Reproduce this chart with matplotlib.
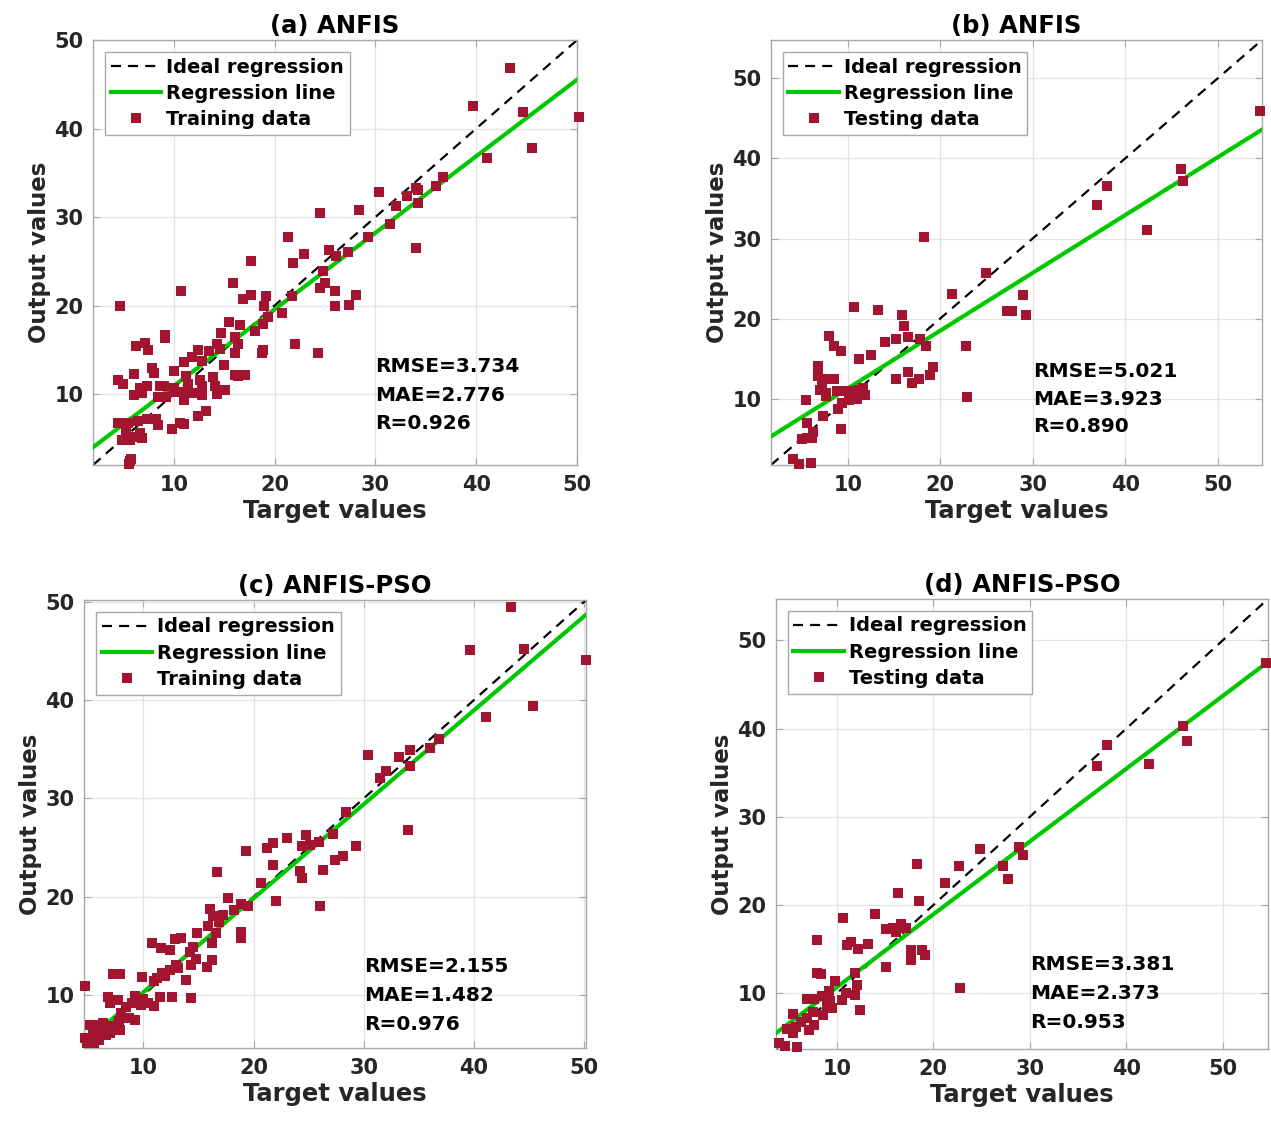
import matplotlib.pyplot as plt
from matplotlib.lines import Line2D

plt.rcParams['font.family'] = ['DejaVu Sans']
plt.rcParams['font.weight'] = 'bold'
plt.rcParams['axes.labelweight'] = 'bold'
plt.rcParams['axes.titleweight'] = 'bold'

# (a) ANFIS, training
a_target = [43.4, 39.7, 44.6, 50.2, 45.5, 41.1, 36.7, 36.0, 34.0, 34.2,
            33.1, 34.2, 32.0, 30.4, 28.4, 31.5, 29.3, 34.0, 24.5, 21.3,
            22.9, 21.8, 25.4, 26.1, 27.3, 24.8, 25.0, 24.5, 26.0, 28.1,
            26.0, 27.4, 21.7, 20.7, 22.0, 24.3, 17.7, 15.9, 17.7, 16.9,
            19.2, 19.0, 19.4, 18.9, 18.1, 16.6, 15.5, 10.7, 4.7, 14.7,
            16.1, 16.4, 14.3, 14.6, 16.1, 18.9, 18.8, 15.0, 12.4, 13.5,
            11.8, 11.0, 12.8, 16.1, 17.1, 16.4, 9.1, 9.1, 7.2, 6.3,
            7.5, 13.9, 11.2, 10.0, 7.8, 6.1, 4.5, 5.0, 8.0, 12.8,
            14.1, 12.6, 11.4, 11.0, 10.0, 9.0, 8.6, 7.4, 6.7, 6.1,
            6.9, 8.4, 9.2, 10.2, 11.8, 11.0, 14.3, 15.1, 12.8, 13.2,
            12.4, 9.8, 10.6, 11.0, 8.4, 8.2, 7.4, 4.5, 5.5, 6.5,
            4.9, 5.7, 6.7, 6.9, 6.1, 5.3, 5.7, 5.6, 5.8]
a_output = [46.8, 42.5, 41.9, 41.3, 37.8, 36.7, 34.5, 33.5, 33.3, 33.1,
            32.4, 31.6, 31.2, 32.8, 30.8, 29.2, 27.8, 26.5, 30.5, 27.8,
            25.8, 24.8, 26.3, 25.6, 26.1, 23.9, 22.6, 22.0, 21.7, 21.2,
            20.0, 20.1, 21.1, 19.2, 15.7, 14.7, 25.0, 22.5, 21.2, 20.8,
            21.1, 20.0, 18.7, 17.9, 17.1, 17.8, 18.2, 21.6, 20.0, 16.9,
            16.5, 15.7, 15.7, 15.1, 14.6, 15.0, 14.7, 13.3, 15.0, 14.9,
            14.2, 13.6, 13.7, 12.2, 12.2, 12.1, 16.4, 16.7, 15.8, 15.4,
            15.0, 11.9, 12.1, 12.6, 12.9, 12.3, 11.6, 11.1, 12.4, 10.9,
            10.9, 11.6, 11.1, 10.3, 10.7, 10.9, 10.9, 10.9, 10.7, 9.9,
            10.1, 9.7, 9.7, 10.3, 10.1, 9.3, 10.0, 10.5, 9.9, 8.1,
            7.5, 6.1, 6.8, 6.6, 6.5, 7.2, 7.2, 6.8, 6.8, 7.0,
            4.8, 4.8, 5.6, 5.0, 5.2, 5.6, 2.5, 2.1, 2.7]

# (b) ANFIS, testing
b_target = [54.6, 46.0, 46.3, 38.0, 37.0, 42.4, 18.3, 25.0, 21.3, 29.0,
            27.2, 27.8, 29.3, 10.7, 13.3, 15.9, 16.1, 8.0, 8.5, 9.3,
            14.0, 15.2, 16.5, 17.8, 18.5, 22.8, 12.5, 11.2, 19.2, 16.5,
            18.9, 17.7, 16.9, 15.2, 22.9, 6.8, 6.8, 7.9, 8.5, 7.2,
            7.0, 7.7, 7.7, 8.8, 9.3, 10.3, 11.2, 11.6, 11.9, 11.0,
            10.1, 9.4, 9.0, 5.5, 7.3, 5.6, 9.3, 6.2, 6.1, 5.0,
            5.6, 4.1, 4.7, 6.0]
b_output = [45.9, 38.7, 37.2, 36.5, 34.2, 31.1, 30.2, 25.7, 23.1, 22.9,
            21.0, 21.0, 20.4, 21.4, 21.1, 20.5, 19.1, 17.8, 16.6, 16.0,
            17.1, 17.4, 17.7, 17.4, 16.6, 16.6, 15.5, 14.9, 14.0, 13.3,
            12.9, 12.4, 12.0, 12.4, 10.2, 14.1, 12.8, 12.5, 12.5, 12.0,
            11.1, 10.7, 10.3, 10.9, 10.9, 10.9, 11.1, 11.3, 10.4, 9.9,
            9.8, 9.5, 8.7, 9.8, 7.8, 7.0, 6.2, 5.8, 5.1, 5.0,
            5.1, 2.5, 1.8, 2.0]

# (c) ANFIS-PSO, training
c_target = [43.4, 39.7, 44.6, 50.2, 45.4, 41.1, 36.8, 36.0, 34.2, 33.2,
            34.2, 30.4, 32.0, 31.5, 34.0, 28.4, 27.2, 29.3, 28.1, 27.4,
            26.3, 26.0, 24.8, 24.4, 25.1, 25.9, 23.0, 21.8, 21.2, 19.3,
            21.8, 24.2, 24.4, 20.7, 22.0, 16.7, 17.7, 18.9, 19.5, 18.2,
            17.2, 16.0, 16.3, 16.9, 15.9, 14.9, 16.6, 18.9, 18.9, 16.2,
            14.5, 14.2, 14.8, 14.3, 16.2, 15.8, 13.4, 12.9, 10.8, 11.6,
            12.4, 13.1, 12.4, 11.7, 11.2, 11.0, 13.9, 9.9, 7.2, 7.9,
            4.7, 14.3, 12.6, 11.5, 11.0, 10.4, 9.8, 9.2, 9.0, 8.4,
            7.7, 6.8, 7.0, 9.2, 8.7, 7.8, 7.9, 7.0, 6.3, 5.7,
            5.4, 6.0, 6.6, 7.0, 5.1, 4.7, 5.5, 4.9, 6.0, 5.1,
            8.0, 6.5, 5.8, 10.0, 12.0, 13.0]
c_output = [49.5, 45.1, 45.2, 44.1, 39.4, 38.3, 36.1, 35.1, 34.9, 34.2,
            33.3, 34.4, 32.8, 32.1, 26.8, 28.6, 26.4, 25.2, 24.1, 23.7,
            22.7, 19.1, 26.3, 25.2, 25.3, 25.6, 26.0, 25.5, 25.0, 24.7,
            23.2, 22.6, 21.9, 21.4, 19.6, 22.5, 19.9, 19.3, 19.1, 18.6,
            18.1, 18.7, 18.0, 17.4, 17.0, 16.3, 16.3, 16.4, 15.8, 15.3,
            14.9, 14.4, 13.7, 13.1, 13.6, 12.8, 15.8, 15.7, 15.3, 14.8,
            14.6, 12.7, 12.5, 12.2, 11.7, 11.4, 11.5, 11.8, 12.1, 12.1,
            10.9, 9.7, 9.8, 9.8, 8.9, 9.2, 9.0, 9.9, 9.2, 8.8,
            9.5, 9.8, 9.2, 7.5, 7.7, 7.3, 6.4, 6.8, 7.1, 6.9,
            6.4, 6.1, 5.9, 6.1, 5.6, 5.6, 5.1, 5.1, 5.4, 6.9,
            8.2, 6.6, 5.8, 9.6, 11.9, 13.0]

# (d) ANFIS-PSO, testing
d_target = [54.5, 45.9, 46.3, 38.0, 37.0, 42.4, 28.9, 29.3, 24.8, 22.7,
            27.2, 27.8, 21.2, 18.3, 18.5, 16.4, 14.0, 10.7, 15.1, 15.8,
            16.7, 17.2, 16.1, 17.7, 17.7, 18.8, 19.2, 15.1, 22.8, 8.0,
            11.1, 11.5, 12.2, 13.2, 8.0, 8.4, 9.8, 11.9, 12.1, 9.2,
            8.5, 11.0, 11.9, 10.5, 9.3, 9.0, 9.5, 6.9, 7.6, 12.4,
            8.6, 5.5, 7.5, 6.9, 6.3, 7.6, 7.1, 5.8, 5.1, 5.5,
            4.8, 4.0, 4.6, 5.9]
d_output = [47.5, 40.3, 38.6, 38.1, 35.8, 36.0, 26.6, 25.7, 26.4, 24.4,
            24.4, 23.0, 22.5, 24.7, 20.5, 21.4, 19.0, 18.5, 17.3, 17.4,
            17.9, 17.4, 17.0, 14.9, 13.8, 14.9, 14.4, 13.0, 10.6, 16.0,
            15.5, 15.8, 15.0, 15.6, 12.3, 12.2, 11.4, 12.3, 10.9, 10.3,
            9.7, 10.0, 9.8, 9.2, 9.1, 8.7, 8.4, 9.4, 9.4, 8.1,
            7.6, 7.7, 7.9, 7.2, 6.8, 6.4, 5.9, 6.2, 6.0, 5.5,
            6.0, 4.4, 4.0, 3.9]

titles = ['(a) ANFIS', '(b) ANFIS', '(c) ANFIS-PSO', '(d) ANFIS-PSO']
data_labels = ['Training data', 'Testing data', 'Training data', 'Testing data']
limits = [(2.0, 50.0), (1.7, 54.8), (4.6, 50.2), (3.7, 54.7)]
# regression line: (slope, intercept)
fits = [(0.865, 2.27), (0.722, 4.04), (0.956, 0.72), (0.825, 2.45)]
metrics = [('3.734', '2.776', '0.926'), ('5.021', '3.923', '0.890'),
           ('2.155', '1.482', '0.976'), ('3.381', '2.373', '0.953')]
metric_y = [(13.1, 9.9, 6.7), (13.4, 9.9, 6.5), (12.9, 9.9, 7.0), (13.3, 10.0, 6.7)]
targets = [a_target, b_target, c_target, d_target]
outputs = [a_output, b_output, c_output, d_output]

# axes rectangles in figure fractions
rects = [[0.0732, 0.5863, 0.3808, 0.3781],
         [0.6066, 0.5863, 0.3863, 0.3781],
         [0.0661, 0.0676, 0.3950, 0.3986],
         [0.6105, 0.0667, 0.3871, 0.4004]]

red = '#A2142F'
green = '#00C800'

fig = plt.figure(figsize=(12.71, 11.24), dpi=100)

for i in range(4):
    ax = fig.add_axes(rects[i])
    lo, hi = limits[i]
    slope, icpt = fits[i]

    ax.plot([lo, hi], [lo, hi], color='black', lw=1.6, ls=(0, (4.5, 3.2)), zorder=2)
    ax.plot([lo, hi], [slope * lo + icpt, slope * hi + icpt], color=green, lw=3, zorder=3)
    ax.scatter(targets[i], outputs[i], marker='s', s=55, color=red, lw=0,
               zorder=4, clip_on=False)

    ax.set_xlim(lo, hi)
    ax.set_ylim(lo, hi)
    ax.set_xticks([10, 20, 30, 40, 50])
    ax.set_yticks([10, 20, 30, 40, 50])
    ax.grid(True, color='#e3e3e3', lw=0.9)
    ax.set_axisbelow(True)
    for sp in ax.spines.values():
        sp.set_color('#a8a8a8')
        sp.set_linewidth(1.0)
    ax.tick_params(direction='in', length=5, top=True, right=True,
                   color='#a8a8a8', labelcolor='#262626', labelsize=15, pad=7)

    ax.set_xlabel('Target values', fontsize=17.5, color='#262626', labelpad=3)
    ax.set_ylabel('Output values', fontsize=16.5, color='#262626', labelpad=2)
    ax.set_title(titles[i], fontsize=17.5, color='black', pad=5)

    for lab, val, yy in zip(['RMSE=', 'MAE=', 'R='], metrics[i], metric_y[i]):
        ax.text(30.0, yy, lab + val, fontsize=14.5, va='center', ha='left', color='black')

    handles = [Line2D([], [], color='black', lw=1.6, ls=(0, (4.5, 3.2))),
               Line2D([], [], color=green, lw=3),
               Line2D([], [], color=red, marker='s', ls='none', markersize=7, mew=0)]
    ax.legend(handles, ['Ideal regression', 'Regression line', data_labels[i]],
              loc='upper left', fontsize=14, frameon=True, fancybox=False,
              framealpha=1, edgecolor='#a8a8a8', borderaxespad=0.6,
              handlelength=2.6, handletextpad=0.25, labelspacing=0.38,
              borderpad=0.3)

fig.savefig('out.png', dpi=100)
